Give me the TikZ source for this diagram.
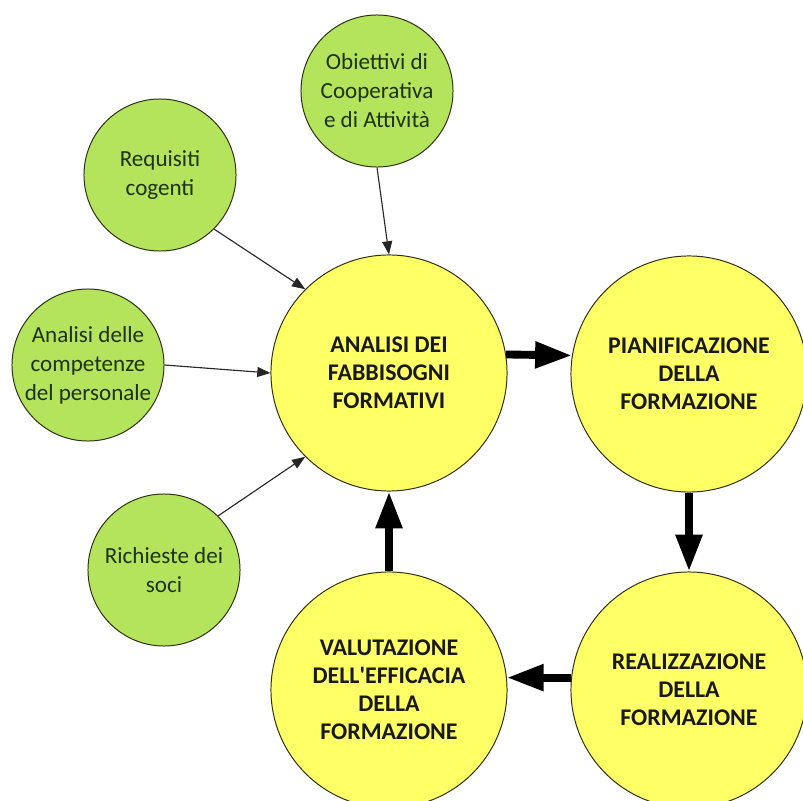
\documentclass[tikz,border=0pt]{standalone}
\usepackage{fontspec}
\setmainfont{Carlito}
\usetikzlibrary{arrows.meta}
\definecolor{verde}{HTML}{B4E35C}
\definecolor{giallo}{HTML}{FFFF66}
\definecolor{bordo}{HTML}{2E2E10}
\definecolor{testoverde}{HTML}{1E3210}

\begin{document}
\begin{tikzpicture}[x=0.025cm,y=-0.025cm,
  fonte/.style={circle,draw=bordo,line width=0.7pt,fill=verde,minimum size=3.8cm,
    inner sep=0pt,align=center,text=testoverde,font=\fontsize{16.4}{20.6}\selectfont},
  fase/.style={circle,draw=bordo,line width=0.7pt,fill=giallo,minimum size=5.9cm,
    inner sep=0pt,align=center,text=black!90,font=\fontsize{17}{19.9}\selectfont\bfseries},
  ingresso/.style={-{Triangle[length=0.33cm,width=0.25cm]},line width=0.8pt,draw=black!85},
  ciclo/.style={-{Triangle[length=0.92cm,width=0.63cm]},line width=5.6pt}]
\useasboundingbox (0,0) rectangle (803,801);
% sorgenti dell'analisi
\node[fonte] (obiettivi) at (377,91) {Obiettivi di\\Cooperativa\\e di Attività};
\node[fonte] (requisiti) at (160,175) {Requisiti\\cogenti};
\node[fonte] (competenze) at (88,365) {Analisi delle\\competenze\\del personale};
\node[fonte] (richieste) at (164,570) {Richieste dei\\soci};
% ciclo della formazione
\node[fase] (analisi) at (389,373) {ANALISI DEI\\FABBISOGNI\\FORMATIVI};
\node[fase] (pianificazione) at (689,374) {PIANIFICAZIONE\\DELLA\\FORMAZIONE};
\node[fase] (realizzazione) at (689,690) {REALIZZAZIONE\\DELLA\\FORMAZIONE};
\node[fase] (valutazione) at (389,690) {VALUTAZIONE\\DELL\textquotesingle EFFICACIA\\DELLA\\FORMAZIONE};
\draw[ingresso] (obiettivi.south) -- (analisi.north);
\draw[ingresso] (requisiti.-45) -- (analisi.135);
\draw[ingresso] (competenze.east) -- (analisi.west);
\draw[ingresso] (richieste.45) -- (analisi.225);
\draw[ciclo] (analisi.9) -- (pianificazione.171);
\draw[ciclo] (pianificazione.south) -- (realizzazione.north);
\draw[ciclo] (realizzazione.174) -- (valutazione.6);
\draw[ciclo] (valutazione.north) -- (analisi.south);
\end{tikzpicture}
\end{document}
